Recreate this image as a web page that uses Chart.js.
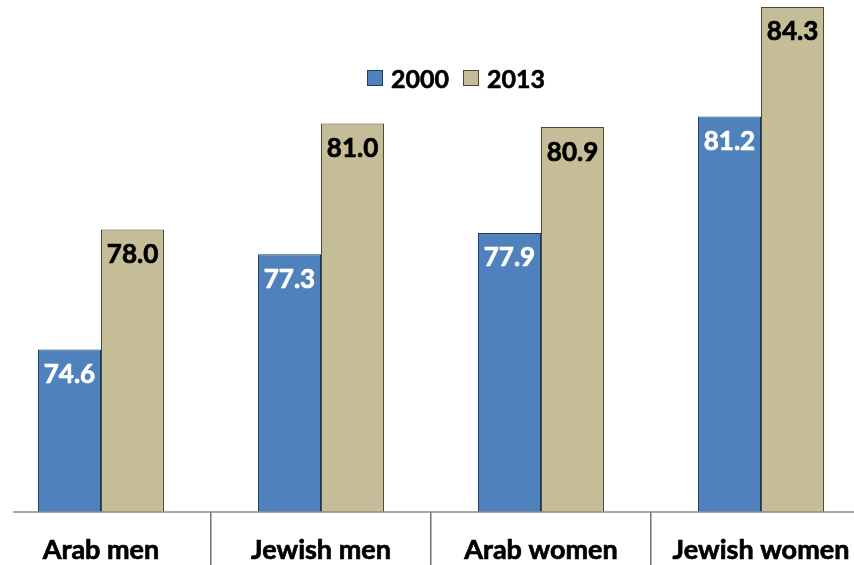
<!DOCTYPE html>
<html>
<head>
<meta charset="utf-8">
<script src="https://cdn.jsdelivr.net/npm/chart.js@4.4.1/dist/chart.umd.min.js"></script>
<style>
  html, body { margin: 0; padding: 0; background: #fff; overflow: hidden; }
  #wrap { position: relative; width: 854px; height: 565px; overflow: hidden; }
  #box { position: absolute; left: -9px; top: 0; width: 880px; height: 565px; }
  #legend { position: absolute; left: 367px; top: 63px; display: flex; align-items: center;
            font: bold 25px Lato, sans-serif; color: #000; -webkit-text-stroke: 0.6px #000; }
  #legend span.sw { display: inline-block; width: 14px; height: 14px; margin-right: 8px; }
  #legend .item { display: flex; align-items: center; margin-right: 14px; }
</style>
</head>
<body>
<div id="wrap">
  <div id="box"><canvas id="myChart" width="880" height="565"></canvas></div>
  <div id="legend"></div>
</div>
<script>
const groups = ["Arab men", "Jewish men", "Arab women", "Jewish women"];
const years = ["2000", "2013"];
const values2000 = [74.6, 77.3, 77.9, 81.2];
const values2013 = [78.0, 81.0, 80.9, 84.3];

const fills = ["#4f81bd", "#c4bd97"];
const edges = ["#1f3960", "#4a4736"];
const labelColors = ["#ffffff", "#000000"];

const ctx = document.getElementById("myChart");

// value printed inside the top of each bar
const barValues = {
  id: "barValues",
  afterDatasetsDraw(chart) {
    const c = chart.ctx;
    c.save();
    c.font = "bold 26px Lato, sans-serif";
    c.textAlign = "center";
    c.textBaseline = "middle";
    c.lineWidth = 0.7;
    chart.data.datasets.forEach((ds, i) => {
      chart.getDatasetMeta(i).data.forEach((bar, j) => {
        const txt = ds.data[j].toFixed(1);
        c.fillStyle = labelColors[i];
        c.strokeStyle = labelColors[i];
        c.fillText(txt, bar.x, bar.y + 25);
        c.strokeText(txt, bar.x, bar.y + 25);
      });
    });
    c.restore();
  }
};

// baseline starts a little inside the left edge; labels get a thin outline
const baseline = {
  id: "baseline",
  afterDraw(chart) {
    const c = chart.ctx;
    const x = chart.scales.x;
    const y = chart.scales.y.getPixelForValue(70);
    c.save();
    c.strokeStyle = "#8c8c8c";
    c.lineWidth = 1.5;
    c.beginPath();
    c.moveTo(chart.chartArea.left + 22, y);
    c.lineTo(chart.chartArea.right, y);
    c.stroke();
    c.font = "bold 27px Lato, sans-serif";
    c.textAlign = "center";
    c.textBaseline = "middle";
    c.fillStyle = "#000";
    c.strokeStyle = "#000";
    c.lineWidth = 0.7;
    groups.forEach((g, i) => {
      const px = x.getPixelForValue(i);
      c.fillText(g, px, y + 38);
      c.strokeText(g, px, y + 38);
    });
    c.restore();
  }
};

const chart = new Chart(ctx, {
  type: "bar",
  data: {
    labels: groups,
    datasets: [
      {
        label: years[0],
        data: values2000,
        backgroundColor: fills[0],
        borderColor: edges[0],
        borderWidth: 1,
        borderSkipped: "bottom",
      },
      {
        label: years[1],
        data: values2013,
        backgroundColor: fills[1],
        borderColor: edges[1],
        borderWidth: 1,
        borderSkipped: "bottom",
      },
    ],
  },
  options: {
    responsive: false,
    animation: false,
    layout: { padding: 0 },
    datasets: { bar: { categoryPercentage: 0.573, barPercentage: 1.0 } },
    plugins: {
      legend: { display: false },
      tooltip: { enabled: false },
    },
    scales: {
      x: {
        offset: true,
        border: { display: false },
        grid: {
          offset: true,
          drawOnChartArea: false,
          drawTicks: true,
          tickLength: 53,
          color: "#6e6e6e",
          lineWidth: 1.5,
        },
        ticks: {
          display: false,
        },
        afterFit(scale) {
          scale.height = 53;
        },
      },
      y: {
        display: false,
        min: 70,
        max: 84.5,
      },
    },
  },
  plugins: [barValues, baseline],
});

// legend
const legend = document.getElementById("legend");
years.forEach((y, i) => {
  const item = document.createElement("div");
  item.className = "item";
  const sw = document.createElement("span");
  sw.className = "sw";
  sw.style.background = fills[i];
  sw.style.border = "1px solid " + edges[i];
  item.appendChild(sw);
  item.appendChild(document.createTextNode(y));
  legend.appendChild(item);
});
</script>
</body>
</html>
